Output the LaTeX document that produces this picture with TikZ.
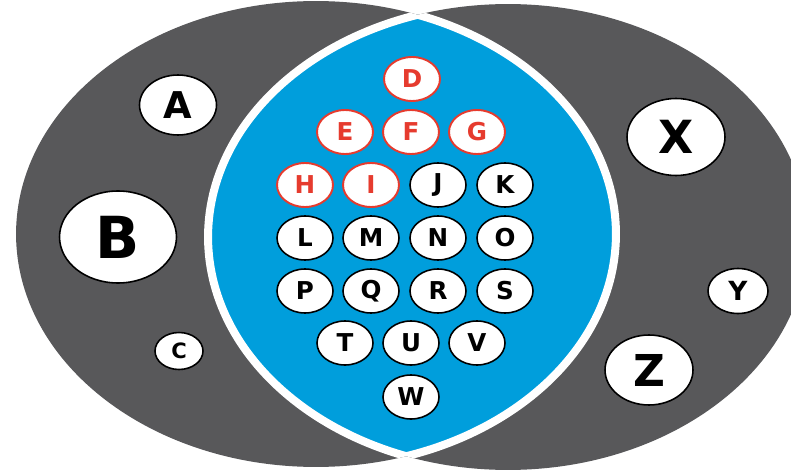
\documentclass[tikz,border=0pt]{standalone}
\usepackage{fontspec}
\setmainfont{DejaVu Sans}
\usetikzlibrary{shapes.geometric}
\definecolor{shellgray}{RGB}{88,88,90}
\definecolor{lensblue}{RGB}{0,158,220}
\definecolor{contactred}{RGB}{230,59,46}

\tikzset{
  contact/.style={ellipse,draw=black,fill=white,line width=0.9pt,inner sep=0pt,
    minimum width=1.12cm,minimum height=0.88cm,font=\fontsize{14}{14}\selectfont\bfseries},
  redcontact/.style={contact,draw=contactred,text=contactred,line width=1.1pt},
  shell/.style={x radius=6cm,y radius=4.66cm},
}

\begin{document}
\begin{tikzpicture}[x=0.02cm,y=-0.02cm,line join=round]
\useasboundingbox (0,0) rectangle (791,473);
% two grey shells
\fill[shellgray] (316,234) ellipse [shell];
\fill[shellgray] (508,237) ellipse [shell];
% blue lens where they overlap
\begin{scope}
  \clip (316,234) ellipse [shell];
  \fill[lensblue] (508,237) ellipse [shell];
  \draw[white,line width=0.16cm] (508,237) ellipse [shell];
\end{scope}
\begin{scope}
  \clip (508,237) ellipse [shell];
  \draw[white,line width=0.16cm] (316,234) ellipse [shell];
\end{scope}
% left shell contacts
\node[contact,minimum width=1.54cm,minimum height=1.2cm,font=\fontsize{21}{21}\selectfont\bfseries] (A) at (178,105) {A};
\node[contact,minimum width=2.34cm,minimum height=1.84cm,font=\fontsize{33}{33}\selectfont\bfseries] (B) at (118,237) {B};
\node[contact,minimum width=0.96cm,minimum height=0.74cm,font=\fontsize{12}{12}\selectfont\bfseries] (C) at (179,351) {C};
% right shell contacts
\node[contact,minimum width=1.96cm,minimum height=1.54cm,font=\fontsize{26}{26}\selectfont\bfseries] (X) at (676,137) {X};
\node[contact,minimum width=1.2cm,minimum height=0.9cm,font=\fontsize{15}{15}\selectfont\bfseries] (Y) at (738,291) {Y};
\node[contact,minimum width=1.76cm,minimum height=1.4cm,font=\fontsize{25}{25}\selectfont\bfseries] (Z) at (649,370) {Z};
% lens contacts, red ones on top
\node[redcontact] (D) at (412,79) {D};
\node[redcontact] (E) at (345,132) {E};
\node[redcontact] (F) at (411,132) {F};
\node[redcontact] (G) at (477,132) {G};
\node[redcontact] (H) at (305,185) {H};
\node[redcontact] (I) at (371,185) {I};
\node[contact] (J) at (438,185) {J};
\node[contact] (K) at (505,185) {K};
\node[contact] (L) at (305,238) {L};
\node[contact] (M) at (371,238) {M};
\node[contact] (N) at (438,238) {N};
\node[contact] (O) at (505,238) {O};
\node[contact] (P) at (305,291) {P};
\node[contact] (Q) at (371,291) {Q};
\node[contact] (R) at (438,291) {R};
\node[contact] (S) at (505,291) {S};
\node[contact] (T) at (345,343) {T};
\node[contact] (U) at (411,343) {U};
\node[contact] (V) at (477,343) {V};
\node[contact] (W) at (411,397) {W};
\end{tikzpicture}
\end{document}
